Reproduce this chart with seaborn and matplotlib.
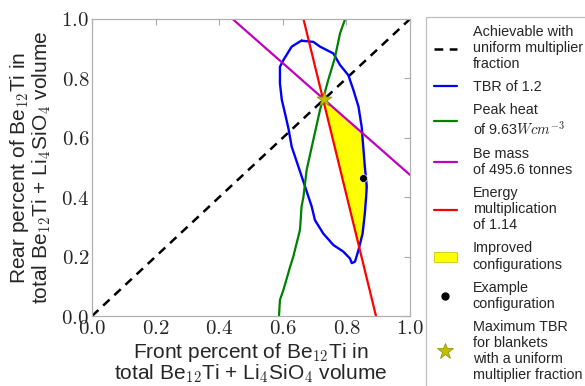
import numpy as np
import pandas as pd
import matplotlib
matplotlib.use("Agg")
import matplotlib.pyplot as plt
import seaborn as sns
from matplotlib.lines import Line2D
from matplotlib.patches import Patch
from matplotlib.ticker import FuncFormatter

# uniform multiplier fraction (diagonal)
uniform_x = [0.0, 1.0]
uniform_y = [0.0, 1.0]

# TBR = 1.2 contour (closed loop)
tbr_x = [0.659, 0.696, 0.717, 0.759, 0.780, 0.806, 0.822, 0.838, 0.848, 0.853,
         0.858, 0.864, 0.862, 0.858, 0.851, 0.838, 0.827, 0.817, 0.811, 0.790,
         0.759, 0.727, 0.701, 0.691, 0.670, 0.649, 0.628, 0.618, 0.607, 0.597,
         0.591, 0.591, 0.602, 0.628, 0.652, 0.659]
tbr_y = [0.927, 0.923, 0.907, 0.884, 0.845, 0.811, 0.761, 0.705, 0.637, 0.570,
         0.503, 0.436, 0.400, 0.346, 0.278, 0.222, 0.183, 0.178, 0.194, 0.217,
         0.239, 0.278, 0.323, 0.368, 0.436, 0.503, 0.570, 0.630, 0.682, 0.727,
         0.783, 0.839, 0.862, 0.907, 0.923, 0.927]

# peak heat contour
heat_x = [0.588, 0.591, 0.602, 0.623, 0.633, 0.654, 0.659, 0.665, 0.675, 0.696,
          0.717, 0.743, 0.764, 0.769, 0.780, 0.796]
heat_y = [0.0, 0.054, 0.088, 0.166, 0.200, 0.290, 0.368, 0.402, 0.492, 0.593,
          0.694, 0.795, 0.870, 0.896, 0.952, 1.0]

# Be mass line
mass_x = [0.442, 1.0]
mass_y = [1.0, 0.475]

# energy multiplication line
energy_x = [0.665, 0.893]
energy_y = [1.0, 0.0]

# improved configurations region
improved_x = [0.728, 0.848, 0.853, 0.858, 0.864, 0.862, 0.858, 0.851, 0.842, 0.728]
improved_y = [0.729, 0.618, 0.570, 0.503, 0.436, 0.400, 0.346, 0.278, 0.230, 0.729]

example_x = [0.851]
example_y = [0.466]

best_x = [0.728]
best_y = [0.729]

sns.set_style("white")
plt.rcParams["font.family"] = ["Liberation Sans", "DejaVu Sans"]
plt.rcParams["mathtext.fontset"] = "cm"

fig = plt.figure(figsize=(5.85, 3.86), dpi=100)
ax = fig.add_axes([92 / 585, 70 / 386, 318 / 585, 297 / 386])

ax.fill(improved_x, improved_y, color="#ffff00", zorder=1, lw=0)

sns.lineplot(x=uniform_x, y=uniform_y, ax=ax, color="black", lw=1.8, sort=False, estimator=None)
ax.lines[-1].set_dashes([3.5, 2.6])
sns.lineplot(x=tbr_x, y=tbr_y, ax=ax, color="#0000ff", lw=1.7, sort=False, estimator=None)
sns.lineplot(x=heat_x, y=heat_y, ax=ax, color="#008000", lw=1.6, sort=False, estimator=None)
sns.lineplot(x=mass_x, y=mass_y, ax=ax, color="#bf00bf", lw=1.6, sort=False, estimator=None)
sns.lineplot(x=energy_x, y=energy_y, ax=ax, color="#ff0000", lw=1.6, sort=False, estimator=None)
sns.scatterplot(x=example_x, y=example_y, ax=ax, color="black", s=32, zorder=5)
sns.scatterplot(x=best_x, y=best_y, ax=ax, color="#bfbf00", marker="*", s=130,
                edgecolor="#8a8a00", linewidth=0.5, zorder=6)

ax.set_xlim(0, 1)
ax.set_ylim(0, 1)
ax.set_xticks(np.arange(0, 1.01, 0.2))
ax.set_yticks(np.arange(0, 1.01, 0.2))
fmt = FuncFormatter(lambda v, p: f"${v:.1f}$")
ax.xaxis.set_major_formatter(fmt)
ax.yaxis.set_major_formatter(fmt)
ax.tick_params(direction="in", length=4, width=0.8, color="#aaaaaa", labelsize=15,
               top=True, right=True, pad=2)
for s in ax.spines.values():
    s.set_color("#b0b0b0")
    s.set_linewidth(0.9)

ax.set_xlabel("Front percent of Be$_{12}$Ti in\ntotal Be$_{12}$Ti + Li$_4$SiO$_4$ volume",
              fontsize=15, labelpad=2, linespacing=0.95)
ax.set_ylabel("Rear percent of Be$_{12}$Ti in\ntotal Be$_{12}$Ti + Li$_4$SiO$_4$ volume",
              fontsize=15, labelpad=6, linespacing=0.95)

handles = [
    Line2D([], [], color="black", lw=1.8, dashes=[3.5, 2.6]),
    Line2D([], [], color="#0000ff", lw=1.6),
    Line2D([], [], color="#008000", lw=1.6),
    Line2D([], [], color="#bf00bf", lw=1.6),
    Line2D([], [], color="#ff0000", lw=1.6),
    Patch(facecolor="#ffff00", edgecolor="#bbbb00", lw=0.5),
    Line2D([], [], color="black", marker="o", ls="", markersize=5),
    Line2D([], [], color="#bfbf00", marker="*", ls="", markersize=12,
           markeredgecolor="#8a8a00", markeredgewidth=0.5),
]
labels = [
    "Achievable with\nuniform multiplier\nfraction",
    "TBR of 1.2",
    "Peak heat\nof 9.63$Wcm^{-3}$",
    "Be mass\nof 495.6 tonnes",
    "Energy\nmultiplication\nof 1.14",
    "Improved\nconfigurations",
    "Example\nconfiguration",
    "Maximum TBR\nfor blankets\nwith a uniform\nmultiplier fraction",
]
leg = ax.legend(handles, labels, loc="upper left", bbox_to_anchor=(1.05, 1.007),
                fontsize=10.4, frameon=True, fancybox=False, handlelength=1.6,
                handletextpad=1.1, labelspacing=0.62, borderpad=0.55,
                borderaxespad=0)
leg.get_frame().set_edgecolor("#b0b0b0")
leg.get_frame().set_linewidth(0.9)

fig.savefig("out.png", dpi=100)
